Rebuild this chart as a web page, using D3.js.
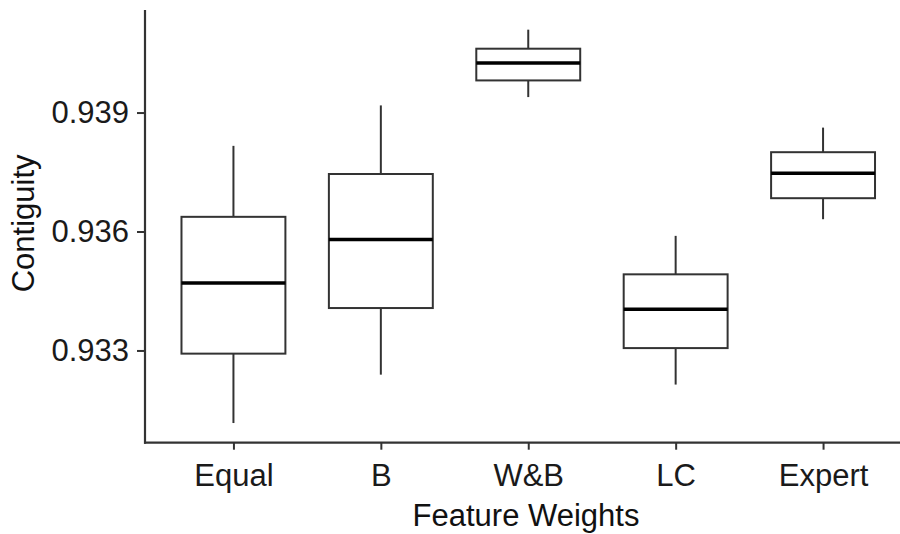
<!DOCTYPE html>
<html>
<head>
<meta charset="utf-8">
<script src="https://cdn.jsdelivr.net/npm/d3@7"></script>
<style>
  html, body { margin: 0; padding: 0; background: #fff; }
  svg { display: block; font-family: "Liberation Sans", Arial, sans-serif; }
</style>
</head>
<body>
<svg id="chart" width="900" height="534"></svg>
<script>
// Feature weighting schemes on the x axis
const categories = ["Equal", "B", "W&B", "LC", "Expert"];
// Box-plot summaries of contiguity per scheme
const whiskerLow  = [0.93117, 0.93239, 0.93939, 0.93214, 0.93631];
const quartile1   = [0.93292, 0.93407, 0.93981, 0.93306, 0.93684];
const medians     = [0.93470, 0.93580, 0.94025, 0.93404, 0.93747];
const quartile3   = [0.93637, 0.93745, 0.94061, 0.93492, 0.93800];
const whiskerHigh = [0.93816, 0.93918, 0.94109, 0.93589, 0.93862];
const yTicks = [0.933, 0.936, 0.939];

const boxes = categories.map((c, i) => ({
  cat: c, lo: whiskerLow[i], q1: quartile1[i], med: medians[i],
  q3: quartile3[i], hi: whiskerHigh[i]
}));

const svg = d3.select("#chart");
const panel = { left: 145, right: 911.5, top: 10, bottom: 442.7 };
const fontSize = "31px";

const x = d3.scalePoint().domain(categories).range([panel.left, panel.right]).padding(0.6);

const dataMin = d3.min(whiskerLow), dataMax = d3.max(whiskerHigh);
const pad = (dataMax - dataMin) * 0.05;
const y = d3.scaleLinear().domain([dataMin - pad, dataMax + pad]).range([panel.bottom, panel.top]);

const boxW = x.step() * 0.705;
const ink = "#333333";

const g = svg.append("g");

// whiskers
g.selectAll("line.whisker-hi").data(boxes).join("line")
  .attr("x1", d => x(d.cat)).attr("x2", d => x(d.cat))
  .attr("y1", d => y(d.q3)).attr("y2", d => y(d.hi))
  .attr("stroke", ink).attr("stroke-width", 2);
g.selectAll("line.whisker-lo").data(boxes).join("line")
  .attr("x1", d => x(d.cat)).attr("x2", d => x(d.cat))
  .attr("y1", d => y(d.q1)).attr("y2", d => y(d.lo))
  .attr("stroke", ink).attr("stroke-width", 2);
// boxes
g.selectAll("rect.box").data(boxes).join("rect")
  .attr("x", d => x(d.cat) - boxW / 2).attr("width", boxW)
  .attr("y", d => y(d.q3)).attr("height", d => y(d.q1) - y(d.q3))
  .attr("fill", "#fff").attr("stroke", ink).attr("stroke-width", 2);
// medians
g.selectAll("line.median").data(boxes).join("line")
  .attr("x1", d => x(d.cat) - boxW / 2).attr("x2", d => x(d.cat) + boxW / 2)
  .attr("y1", d => y(d.med)).attr("y2", d => y(d.med))
  .attr("stroke", "#000").attr("stroke-width", 3.6);

// axes
const yAxis = svg.append("g").attr("transform", `translate(${panel.left},0)`)
  .call(d3.axisLeft(y).tickValues(yTicks).tickFormat(d3.format(".3f")).tickSizeInner(8).tickSizeOuter(0).tickPadding(8));
const xAxis = svg.append("g").attr("transform", `translate(0,${panel.bottom})`)
  .call(d3.axisBottom(x).tickSizeInner(7).tickSizeOuter(0).tickPadding(14));

[yAxis, xAxis].forEach(a => {
  a.select(".domain").attr("stroke", ink).attr("stroke-width", 2.2);
  a.selectAll(".tick line").attr("stroke", ink).attr("stroke-width", 2);
  a.selectAll(".tick text").attr("fill", "#1a1a1a").style("font-size", fontSize)
    .style("font-family", '"Liberation Sans", Arial, sans-serif');
});
yAxis.select(".domain").attr("d", `M0,${panel.top}V${panel.bottom + 1}`);
xAxis.select(".domain").attr("d", `M${panel.left - 1},0H900`);

// axis titles
svg.append("text").attr("x", 526).attr("y", 526)
  .attr("text-anchor", "middle").attr("fill", "#111").style("font-size", fontSize)
  .text("Feature Weights");
svg.append("text").attr("transform", `translate(34,${(panel.top + panel.bottom) / 2 - 3}) rotate(-90)`)
  .attr("text-anchor", "middle").attr("fill", "#111").style("font-size", fontSize)
  .text("Contiguity");
</script>
</body>
</html>
